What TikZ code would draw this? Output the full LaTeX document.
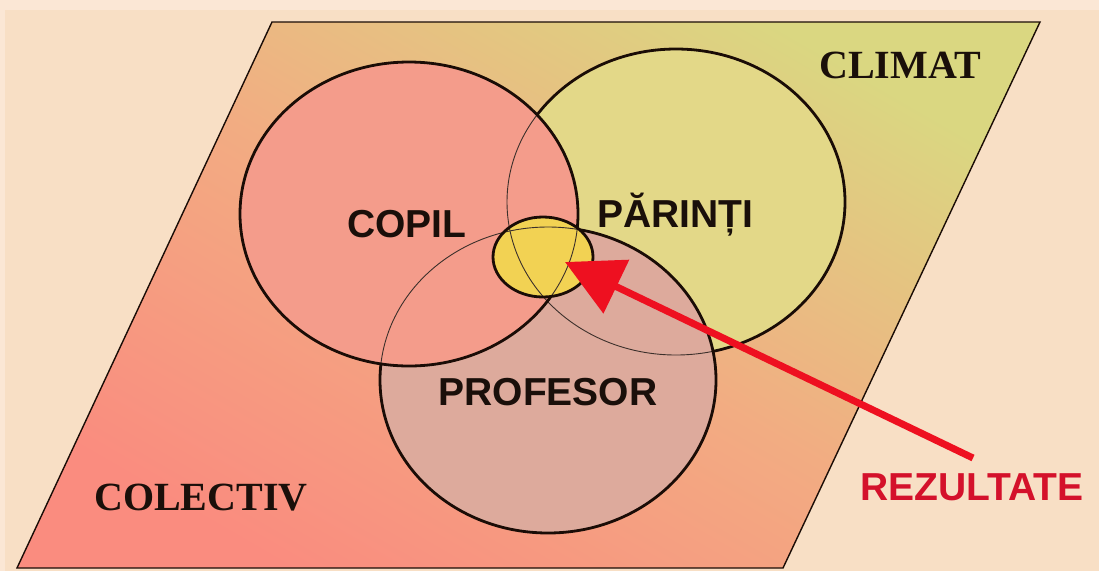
\documentclass[tikz,border=0pt]{standalone}
\usepackage{fontspec}
\setmainfont{Liberation Serif}
\setsansfont{Liberation Sans}
\usetikzlibrary{arrows.meta}
\definecolor{bg}{HTML}{F8DFC5}
\definecolor{bgtop}{HTML}{FBE7D5}
\definecolor{gradlow}{HTML}{FA8C7F}
\definecolor{gradmid}{HTML}{F2AC82}
\definecolor{gradhigh}{HTML}{DAD781}
\definecolor{copilc}{HTML}{F49C8B}
\definecolor{parc}{HTML}{E3D888}
\definecolor{profc}{HTML}{DDAA9C}
\definecolor{resc}{HTML}{F2D253}
\definecolor{linec}{HTML}{1A0C06}
\definecolor{textc}{HTML}{1A0F0A}
\definecolor{arrowred}{HTML}{EE1020}
\definecolor{labelred}{HTML}{D4112B}
\begin{document}
\begin{tikzpicture}[x=1pt,y=1pt,
  thickline/.style={line width=2.8pt, draw=linec},
  thinline/.style={line width=0.9pt, draw=linec!85},
  copilpath/.style={insert path={(409,-214) ellipse [x radius=169pt, y radius=152pt]}},
  parpath/.style={insert path={(676,-202) ellipse [x radius=169pt, y radius=153pt]}},
  profpath/.style={insert path={(548,-380) ellipse [x radius=168pt, y radius=153pt]}},
  respath/.style={insert path={(543,-257) ellipse [x radius=50pt, y radius=40pt]}},
  sanslabel/.style={font=\sffamily\bfseries\fontsize{39}{39}\selectfont, text=textc, inner sep=0pt, anchor=base},
  seriflabel/.style={font=\rmfamily\bfseries\fontsize{40}{40}\selectfont, text=textc, inner sep=0pt, anchor=base}]
\useasboundingbox (0,0) rectangle (1099,-571);
% background
\fill[bg] (0,0) rectangle (1099,-571);
\fill[bgtop] (0,0) rectangle (1099,-10);
\fill[bgtop] (0,0) rectangle (5,-571);
% parallelogram
\shade[bottom color=gradlow, top color=gradhigh, middle color=gradmid, shading angle=-30]
  (272,-22) -- (1040,-22) -- (783,-568) -- (17,-568) -- cycle;
\draw[line width=1.4pt, linec] (272,-22) -- (1040,-22) -- (783,-568) -- (17,-568) -- cycle;
% circle fills
\fill[parc, parpath];
\fill[profc, profpath];
\fill[copilc, copilpath];
% thin (hidden) outlines
\path[thinline, parpath];
\path[thinline, profpath];
% thick visible outlines
\path[thickline, copilpath];
\begin{scope}[even odd rule]
  \clip (0,0) rectangle (1099,-571) (409,-214) ellipse [x radius=169pt, y radius=152pt];
  \path[thickline, profpath];
  \begin{scope}[even odd rule]
    \clip (0,0) rectangle (1099,-571) (548,-380) ellipse [x radius=168pt, y radius=153pt];
    \path[thickline, parpath];
  \end{scope}
\end{scope}
% result ellipse
\fill[resc, respath];
\begin{scope}
  \clip (543,-257) ellipse [x radius=50pt, y radius=40pt];
  \path[thinline, copilpath];
  \path[thinline, parpath];
  \path[thinline, profpath];
\end{scope}
\path[thickline, respath];
% labels
\node[seriflabel] (climat) at (900,-78) {CLIMAT};
\node[seriflabel] (colectiv) at (201,-510) {COLECTIV};
\node[sanslabel] (copil) at (407,-237) {COPIL};
\node[sanslabel] (parinti) at (675,-227) {PĂRINȚI};
\node[sanslabel] (profesor) at (548,-405) {PROFESOR};
\node[sanslabel, text=labelred] (rezultate) at (972,-500) {REZULTATE};
% arrow
\coordinate (tail) at (973,-458);
\coordinate (tip) at (565,-262);
\draw[arrowred, line width=7pt, -{Triangle[length=57pt,width=58pt]}] (tail) -- (tip);
\end{tikzpicture}
\end{document}
